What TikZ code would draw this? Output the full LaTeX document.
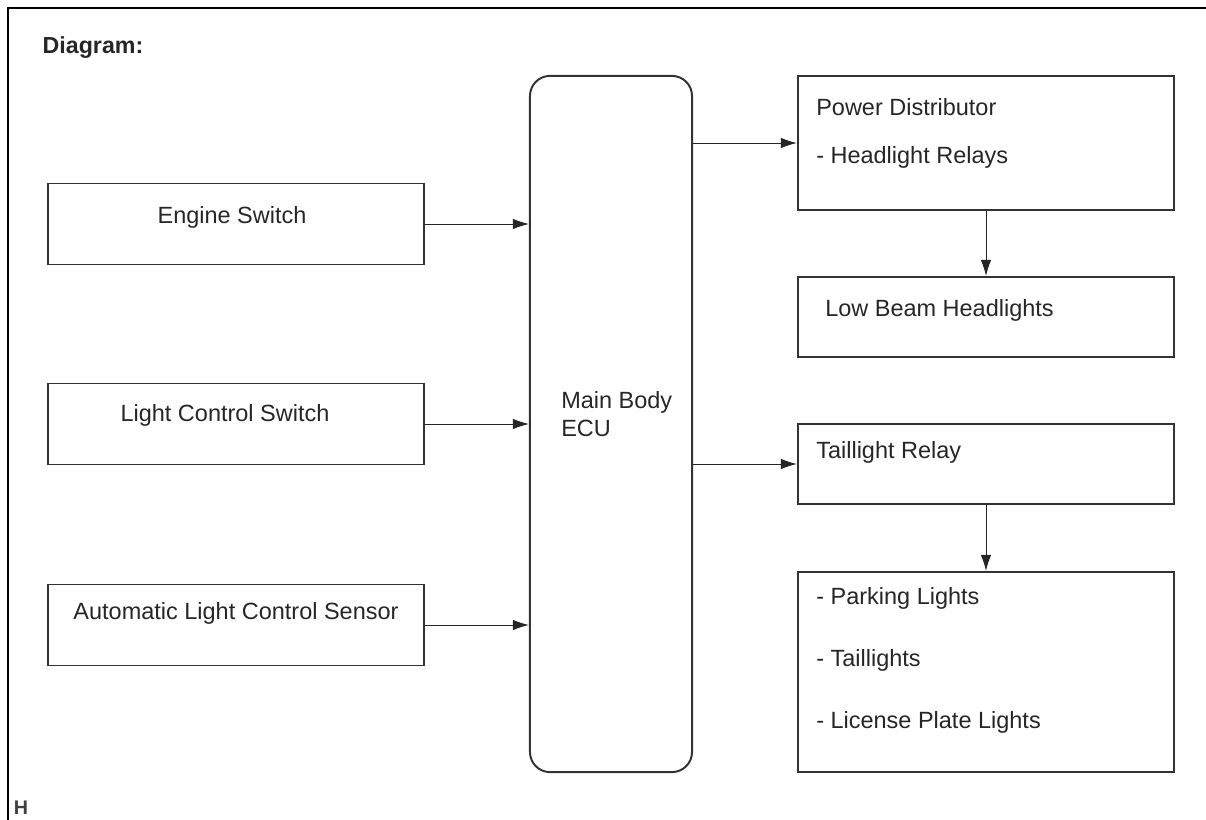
\documentclass[tikz,border=0pt]{standalone}
\usepackage{fontspec}
\setmainfont{Liberation Sans}
\usepackage{tikz}
\usetikzlibrary{positioning}
\usepgflibrary{arrows.meta,shapes.geometric}

\begin{document}
\begin{tikzpicture}[x=0.025cm, y=-0.025cm,
    font=\fontsize{16.7}{20}\selectfont,
    box/.style={draw=black!80, line width=1.4pt, rectangle, minimum width=9.4cm, inner sep=0pt},
    ecubox/.style={draw=black!80, line width=1.4pt, rectangle, rounded corners=0.5cm, minimum width=4.05cm, minimum height=17.4cm, inner sep=0pt},
    txt/.style={anchor=west, inner sep=0pt, text=black!85},
    arr/.style={draw=black!85, line width=0.7pt, -{Latex[length=0.4cm, width=0.26cm]}}]
    \useasboundingbox (0,0) rectangle (1206,820);
    % frame
    \draw[line width=1.5pt] (8,820) -- (8,8) -- (1206,8);
    \node[inner sep=0pt, font=\fontsize{16.5}{20}\selectfont\bfseries, text=black!85] (title) at (93,48) {Diagram:};
    \node[inner sep=0pt, font=\fontsize{14}{16}\selectfont\bfseries, text=black!75] (mark) at (21,808) {H};

    % inputs
    \node[box, minimum height=2.025cm] (eng) at (236,224) {};
    \node[box, minimum height=2.025cm] (lcs) at (236,424) {};
    \node[box, minimum height=2.025cm] (als) at (236,625) {};
    \node[inner sep=0pt, text=black!85] (eng-t) at (232,217) {Engine Switch};
    \node[inner sep=0pt, text=black!85] (lcs-t) at (225,415) {Light Control Switch};
    \node[inner sep=0pt, text=black!85] (als-t) at (236,613) {Automatic Light Control Sensor};

    % ECU
    \node[ecubox] (ecu) at (611,424) {};
    \node[txt] (ecu-t1) at (561,402) {Main Body};
    \node[txt] (ecu-t2) at (561,428) {ECU};

    % outputs
    \node[box, minimum height=3.35cm] (pwr) at (986,143) {};
    \node[box, minimum height=2cm] (lowb) at (986,317) {};
    \node[box, minimum height=2cm] (tlr) at (986,464) {};
    \node[box, minimum height=5cm] (lamps) at (986,672) {};
    \node[txt] (pwr-t1) at (816,107) {Power Distributor};
    \node[txt] (pwr-t2) at (816,157) {- Headlight Relays};
    \node[txt] (lowb-t) at (825,310) {Low Beam Headlights};
    \node[txt] (tlr-t) at (816,452) {Taillight Relay};
    \node[txt] (lamps-t1) at (816,598) {- Parking Lights};
    \node[txt] (lamps-t2) at (816,660) {- Taillights};
    \node[txt] (lamps-t3) at (816,722) {- License Plate Lights};

    % connectors
    \draw[arr] (eng.east) -- (eng.east -| ecu.west);
    \draw[arr] (lcs.east) -- (lcs.east -| ecu.west);
    \draw[arr] (als.east) -- (als.east -| ecu.west);
    \draw[arr] (pwr.west -| ecu.east) -- (pwr.west);
    \draw[arr] (tlr.west -| ecu.east) -- (tlr.west);
    \draw[arr] (pwr.south) -- (lowb.north);
    \draw[arr] (tlr.south) -- (lamps.north);
\end{tikzpicture}
\end{document}
